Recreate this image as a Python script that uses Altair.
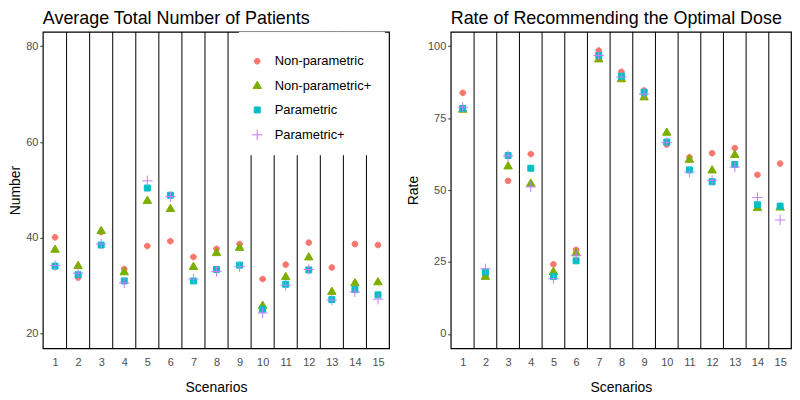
import altair as alt
import pandas as pd

scenarios = [1, 2, 3, 4, 5, 6, 7, 8, 9, 10, 11, 12, 13, 14, 15]
separators = [1.5, 2.5, 3.5, 4.5, 5.5, 6.5, 7.5, 8.5, 9.5, 10.5, 11.5, 12.5, 13.5, 14.5]
methods = ["Non-parametric", "Non-parametric+", "Parametric", "Parametric+"]
colors = ["#F8766D", "#7CAE00", "#00BFC4", "#C77CFF"]

# Average total number of patients
num_np = [40.1, 31.7, 41.2, 33.5, 38.3, 39.3, 36.0, 37.7, 38.7, 31.4, 34.4, 39.0, 33.8, 38.7, 38.5]
num_npp = [37.5, 34.1, 41.4, 32.8, 47.7, 46.0, 33.9, 36.8, 37.9, 25.8, 31.8, 35.9, 28.7, 30.5, 30.7]
num_p = [34.1, 32.3, 38.5, 31.0, 50.4, 48.9, 31.0, 33.4, 34.3, 25.1, 30.3, 33.3, 27.1, 29.2, 28.1]
num_pp = [34.2, 32.6, 38.7, 30.6, 51.9, 48.6, 31.4, 33.0, 34.0, 24.3, 30.1, 33.4, 27.0, 28.7, 27.2]

# Rate of recommending the optimal dose
rate_np = [83.8, 20.3, 53.2, 62.5, 24.2, 29.2, 98.5, 91.1, 84.6, 65.8, 61.4, 62.8, 64.6, 55.3, 59.2]
rate_npp = [77.9, 19.8, 58.2, 52.2, 21.5, 28.0, 95.4, 88.5, 82.2, 69.9, 60.5, 56.8, 62.2, 43.7, 43.9]
rate_p = [78.4, 21.5, 62.0, 57.6, 19.9, 25.4, 96.8, 89.6, 84.0, 66.7, 57.0, 52.9, 58.9, 44.9, 44.4]
rate_pp = [78.8, 22.6, 61.9, 51.1, 19.2, 27.2, 96.8, 89.3, 83.4, 66.5, 56.3, 53.4, 58.0, 47.4, 39.6]

shape_paths = [
    "M0.52,0A0.52,0.52 0 1,1 -0.52,0A0.52,0.52 0 1,1 0.52,0Z",
    "M0,-0.89L0.773,0.445L-0.773,0.445Z",
    "M-0.545,-0.545H0.545V0.545H-0.545Z",
    "M-0.95,0H0.95M0,-0.95V0.95",
]


def long_frame(series_list):
    rows = []
    for name, vals in zip(methods, series_list):
        for s, v in zip(scenarios, vals):
            rows.append({"Scenario": s, "Value": v, "Method": name})
    return pd.DataFrame(rows)


num_df = long_frame([num_np, num_npp, num_p, num_pp])
rate_df = long_frame([rate_np, rate_npp, rate_p, rate_pp])
sep_df = pd.DataFrame({"Scenario": separators})

FONT = "Liberation Sans"
xdomain = [0.47, 15.48]


def panel(df, title, ytitle, ydomain, yvalues, ytitlepad, width, show_legend):
    xenc = alt.X(
        "Scenario:Q",
        scale=alt.Scale(domain=xdomain, nice=False, zero=False),
        axis=alt.Axis(values=scenarios, format="d", title="Scenarios", ticks=False,
                      labelPadding=8, titlePadding=13, labelAngle=0),
    )
    if show_legend:
        leg = alt.Legend(orient="none", legendX=197, legendY=0, title=" ",
                         titleFontSize=8, titlePadding=3, padding=12,
                         fillColor="white", strokeColor="white",
                         labelFontSize=13, labelFont=FONT, labelColor="black",
                         labelOffset=11, rowPadding=10, symbolSize=121,
                         symbolStrokeWidth=1, zindex=1)
    else:
        leg = None
    rules = alt.Chart(sep_df).mark_rule(color="black", strokeWidth=1).encode(x=xenc)
    pts = alt.Chart(df).mark_point(filled=True, opacity=1, size=121, strokeWidth=1).encode(
        x=xenc,
        y=alt.Y("Value:Q", scale=alt.Scale(domain=ydomain, nice=False, zero=False),
                axis=alt.Axis(values=yvalues, title=ytitle, tickSize=3, tickColor="#333333",
                              labelPadding=2, titlePadding=ytitlepad)),
        fill=alt.Fill("Method:N", scale=alt.Scale(domain=methods, range=colors), legend=leg),
        stroke=alt.Stroke("Method:N", scale=alt.Scale(domain=methods, range=colors), legend=leg),
        shape=alt.Shape("Method:N", scale=alt.Scale(domain=methods, range=shape_paths), legend=leg),
    )
    return alt.layer(rules, pts).properties(
        width=width, height=318,
        title=alt.TitleParams(title, anchor="start", frame="group", fontSize=18,
                              fontWeight="normal", font=FONT, color="black", offset=3),
    )


left = panel(num_df, "Average Total Number of Patients", "Number", [16.95, 83.0],
             [20, 40, 60, 80], 3, 348, True)
right = panel(rate_df, "Rate of Recommending the Optimal Dose", "Rate", [-5, 105],
              [0, 25, 50, 75, 100], 7, 342, False)

chart = alt.hconcat(left, right, spacing=16).resolve_scale(
    fill="independent", stroke="independent", shape="independent"
).properties(padding=0).configure_view(
    stroke="black", strokeWidth=1.2
).configure_axis(
    grid=False, domain=False, labelFont=FONT, titleFont=FONT, labelFontSize=11,
    titleFontSize=14, labelColor="#4D4D4D", titleColor="black", titleFontWeight="normal"
)

chart.save("out.html", embed_options={"renderer": "svg", "actions": False})
